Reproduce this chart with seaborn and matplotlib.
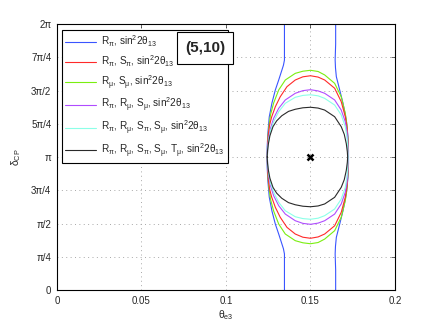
import matplotlib
matplotlib.use('Agg')
import matplotlib.pyplot as plt
import seaborn as sns
import pandas as pd
from matplotlib.patches import Rectangle
from matplotlib.lines import Line2D

# contour points: theta_e3 and delta_CP (in units of pi)
# closed curves are given as their upper half (left edge -> top -> right edge)
blue_left_theta = [0.1346, 0.1346, 0.1346, 0.1340, 0.1331, 0.1312, 0.1292, 0.1272, 0.1256, 0.1248, 0.1244, 0.1243]
blue_left_delta = [2.000, 1.850, 1.729, 1.690, 1.654, 1.579, 1.504, 1.406, 1.301, 1.180, 1.080, 1.000]
blue_right_theta = [0.1649, 0.1649, 0.1646, 0.1648, 0.1653, 0.1673, 0.1692, 0.1712, 0.1722, 0.1725, 0.1725]
blue_right_delta = [2.000, 1.850, 1.729, 1.670, 1.604, 1.504, 1.406, 1.278, 1.153, 1.050, 1.000]

red_theta = [0.1245, 0.1246, 0.1250, 0.1258, 0.1270, 0.1292, 0.1321, 0.1361, 0.1410, 0.1455, 0.1500,
             0.1545, 0.1584, 0.1643, 0.1682, 0.1706, 0.1716, 0.1721, 0.1723, 0.1723]
red_delta = [1.000, 1.080, 1.160, 1.240, 1.300, 1.378, 1.453, 1.529, 1.579, 1.603, 1.611,
             1.601, 1.579, 1.517, 1.416, 1.303, 1.220, 1.130, 1.050, 1.000]

green_theta = [0.1245, 0.1246, 0.1249, 0.1255, 0.1264, 0.1282, 0.1312, 0.1351, 0.1410, 0.1455, 0.1500,
               0.1545, 0.1584, 0.1643, 0.1682, 0.1706, 0.1716, 0.1721, 0.1723, 0.1723]
green_delta = [1.000, 1.080, 1.160, 1.240, 1.320, 1.406, 1.504, 1.579, 1.629, 1.645, 1.652,
               1.643, 1.617, 1.554, 1.453, 1.329, 1.240, 1.140, 1.060, 1.000]

magenta_theta = [0.1245, 0.1247, 0.1252, 0.1262, 0.1282, 0.1312, 0.1351, 0.1410, 0.1455, 0.1500,
                 0.1545, 0.1584, 0.1643, 0.1682, 0.1706, 0.1716, 0.1721, 0.1723]
magenta_delta = [1.000, 1.070, 1.140, 1.210, 1.291, 1.366, 1.429, 1.479, 1.499, 1.506,
                 1.497, 1.479, 1.429, 1.353, 1.265, 1.190, 1.100, 1.000]

cyan_theta = [0.1245, 0.1247, 0.1253, 0.1264, 0.1282, 0.1312, 0.1351, 0.1410, 0.1455, 0.1500,
              0.1545, 0.1584, 0.1643, 0.1682, 0.1706, 0.1716, 0.1721, 0.1723]
cyan_delta = [1.000, 1.060, 1.130, 1.200, 1.265, 1.341, 1.404, 1.449, 1.463, 1.468,
              1.460, 1.441, 1.391, 1.316, 1.228, 1.150, 1.070, 1.000]

black_theta = [0.1244, 0.1246, 0.1251, 0.1260, 0.1278, 0.1300, 0.1330, 0.1370, 0.1410, 0.1455, 0.1500,
               0.1545, 0.1584, 0.1643, 0.1682, 0.1700, 0.1712, 0.1718, 0.1720]
black_delta = [1.000, 1.050, 1.100, 1.160, 1.228, 1.272, 1.310, 1.343, 1.359, 1.370, 1.374,
               1.368, 1.353, 1.303, 1.228, 1.170, 1.100, 1.040, 1.000]

best_fit = (0.15, 1.0)

x_ticks = [0, 0.05, 0.1, 0.15, 0.2]
x_labels = ['0', '0.05', '0.1', '0.15', '0.2']
y_ticks = [0, 0.25, 0.5, 0.75, 1.0, 1.25, 1.5, 1.75, 2.0]
y_labels = ['0', 'π/4', 'π/2', '3π/4', 'π', '5π/4', '3π/2', '7π/4', '2π']

labels = [
    r'R$_\pi$, sin$^2$2$\theta_{13}$',
    r'R$_\pi$, S$_\pi$, sin$^2$2$\theta_{13}$',
    r'R$_\mu$, S$_\mu$, sin$^2$2$\theta_{13}$',
    r'R$_\pi$, R$_\mu$, S$_\mu$, sin$^2$2$\theta_{13}$',
    r'R$_\pi$, R$_\mu$, S$_\pi$, S$_\mu$, sin$^2$2$\theta_{13}$',
    r'R$_\pi$, R$_\mu$, S$_\pi$, S$_\mu$, T$_\mu$, sin$^2$2$\theta_{13}$',
]
colors = ['#3a55ff', '#ff2a2a', '#7aee10', '#b04cff', '#8cffe8', '#2a2a2a']

sns.set_style('white')
plt.rcParams['font.family'] = ['Liberation Sans', 'DejaVu Sans']
plt.rcParams['mathtext.default'] = 'regular'


def mirrored(th, dl):
    # upper half plus its mirror about delta = pi (the contours are symmetric)
    xs = list(th) + list(th[::-1])
    ys = list(dl) + [2.0 - d for d in dl[::-1]]
    return pd.DataFrame({'theta': xs, 'delta': ys})


fig = plt.figure(figsize=(4.36, 3.27), dpi=100)
ax = fig.add_axes([0.1307, 0.1131, 0.7752, 0.8135])

lw = 0.8
for th, dl in [(blue_left_theta, blue_left_delta), (blue_right_theta, blue_right_delta)]:
    sns.lineplot(data=mirrored(th, dl), x='theta', y='delta', sort=False, estimator=None,
                 color=colors[0], lw=lw, ax=ax)

curves = [(green_theta, green_delta, colors[2]),
          (red_theta, red_delta, colors[1]),
          (magenta_theta, magenta_delta, colors[3]),
          (cyan_theta, cyan_delta, colors[4]),
          (black_theta, black_delta, colors[5])]
for th, dl, c in curves:
    sns.lineplot(data=mirrored(th, dl), x='theta', y='delta', sort=False, estimator=None,
                 color=c, lw=lw, ax=ax)

ax.plot(best_fit[0], best_fit[1], marker='x', color='k', ms=4, mew=1.8, ls='none')

ax.set_xlim(0, 0.2)
ax.set_ylim(0, 2)
ax.set_xticks(x_ticks)
ax.set_xticklabels(x_labels)
ax.set_yticks(y_ticks)
ax.set_yticklabels(y_labels)
ax.tick_params(direction='in', top=True, right=True, length=3, width=0.5, labelsize=7, pad=4)
ax.grid(True, linestyle=(0, (1, 3.5)), color='#a8a8a8', lw=0.7)
for s in ax.spines.values():
    s.set_color('black')
    s.set_linewidth(0.8)
ax.set_xlabel(r'$\theta_{e3}$', fontsize=7.5, labelpad=2)
ax.set_ylabel(r'$\delta_{CP}$', fontsize=7.5, labelpad=6)

handles = [Line2D([], [], color=c, lw=lw) for c in colors]
leg = ax.legend(handles, labels, loc='upper left', bbox_to_anchor=(61.7 / 436, 1 - 30 / 327),
                bbox_transform=fig.transFigure, fontsize=7.2, frameon=True, fancybox=False,
                framealpha=1, edgecolor='black', handlelength=3.1, handletextpad=0.45,
                labelspacing=0.45, borderpad=0.35, borderaxespad=0)
leg.get_frame().set_linewidth(0.8)

# "(5,10)" box in the upper corner
fig.add_artist(Rectangle((176.7 / 436, 1 - 64.3 / 327), 56.6 / 436, 32 / 327,
                         transform=fig.transFigure, facecolor='white', edgecolor='black',
                         lw=0.8, zorder=5))
fig.text(205 / 436, 1 - 48.3 / 327, '(5,10)', fontsize=11, fontweight='bold',
         ha='center', va='center', zorder=6)

fig.savefig('out.png', dpi=100)
